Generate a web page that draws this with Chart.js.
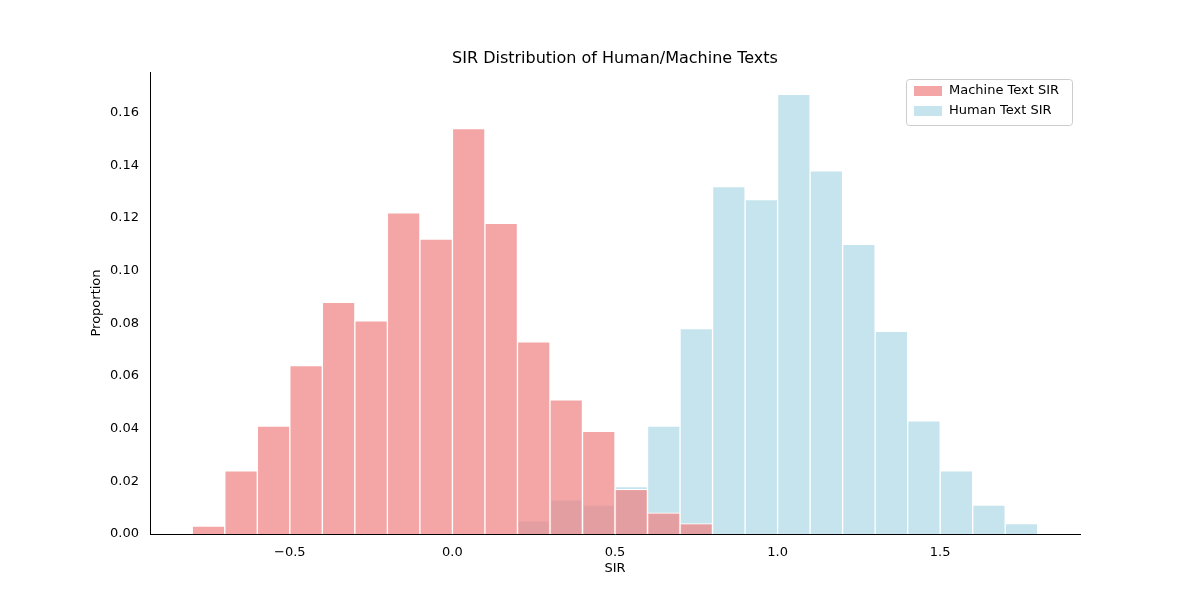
<!DOCTYPE html>
<html><head><script src="https://cdn.jsdelivr.net/npm/chart.js@4"></script>
<style>body{margin:0;background:#fff}#w{width:1200px;height:600px}</style></head>
<body><div id="w"><canvas id="c"></canvas></div>
<script>
const binCenters=[-0.75,-0.65,-0.55,-0.45,-0.35,-0.25,-0.15,-0.05,0.05,0.15,0.25,0.35,0.45,0.55,0.65,0.75,0.85,0.95,1.05,1.15,1.25,1.35,1.45,1.55,1.65,1.75];
const machine=[0.003,0.024,0.041,0.064,0.088,0.081,0.122,0.112,0.154,0.118,0.073,0.051,0.039,0.017,0.008,0.004,0,0,0,0,0,0,0,0,0,0];
const human=[0,0,0,0,0,0,0,0,0,0,0.005,0.013,0.011,0.018,0.041,0.078,0.132,0.127,0.167,0.138,0.110,0.077,0.043,0.024,0.011,0.004];
const xTicks=[-0.5,0,0.5,1,1.5];
const yTicks=[0,0.02,0.04,0.06,0.08,0.10,0.12,0.14,0.16];
const F='"DejaVu Sans"';
const txt={id:'txt',afterDraw(ch){const c=ch.ctx,a=ch.chartArea;c.save();c.fillStyle='#000';c.textAlign='center';
c.font='16px '+F;c.textBaseline='bottom';c.fillText('SIR Distribution of Human/Machine Texts',(a.left+a.right)/2,a.top-5);
c.font='13px '+F;c.textBaseline='top';c.fillText('SIR',(a.left+a.right)/2,562);
c.translate(97,(a.top+a.bottom)/2);c.rotate(-Math.PI/2);c.textBaseline='middle';c.fillText('Proportion',0,0);c.restore();
c.save();const lx=a.right-174,ly=a.top+7;c.fillStyle='rgba(255,255,255,0.8)';c.strokeStyle='#ccc';c.lineWidth=1;
c.beginPath();c.roundRect(lx+0.5,ly+0.5,166,46,3);c.fill();c.stroke();
const it=[['Machine Text SIR','rgba(240,128,128,0.7)'],['Human Text SIR','rgba(173,216,230,0.7)']];
c.font='13px '+F;c.textBaseline='middle';c.textAlign='left';
it.forEach((e,i)=>{const y=ly+12+i*20;c.fillStyle=e[1];c.fillRect(lx+8,y-5,28,10);c.fillStyle='#000';c.fillText(e[0],lx+43,y);});c.restore();}};
new Chart(document.getElementById('c'),{type:'bar',
data:{datasets:[
{label:'Machine Text SIR',data:binCenters.map((x,i)=>({x,y:machine[i]})),backgroundColor:'rgba(240,128,128,0.7)',borderColor:'#fff',borderWidth:1,barPercentage:1,categoryPercentage:1,grouped:false},
{label:'Human Text SIR',data:binCenters.map((x,i)=>({x,y:human[i]})),backgroundColor:'rgba(173,216,230,0.7)',borderColor:'#fff',borderWidth:1,barPercentage:1,categoryPercentage:1,grouped:false}]},
options:{responsive:true,maintainAspectRatio:false,animation:false,
layout:{padding:{left:0,top:72,right:120,bottom:0}},
plugins:{legend:{display:false},tooltip:{enabled:false}},
scales:{
x:{type:'linear',offset:false,min:-0.93,max:1.93,grid:{display:false},border:{color:'#000'},
afterFit(s){s.height=66;},afterBuildTicks(s){s.ticks=xTicks.map(v=>({value:v}));},
ticks:{color:'#000',font:{family:F,size:13},callback:v=>v.toFixed(1).replace('-','\u2212')}},
y:{min:0,max:0.1755,grid:{display:false},border:{color:'#000'},
afterFit(s){s.width=150;},afterBuildTicks(s){s.ticks=yTicks.map(v=>({value:v}));},
ticks:{color:'#000',font:{family:F,size:13},callback:v=>v.toFixed(2)}}}},
plugins:[txt]});
</script></body></html>
